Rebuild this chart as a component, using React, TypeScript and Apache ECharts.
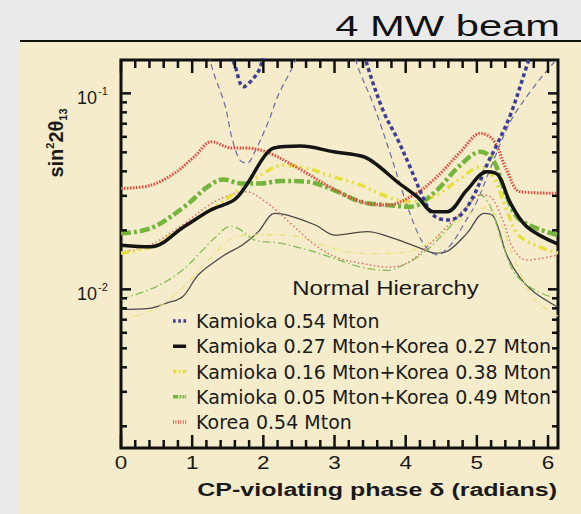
import React, { useEffect, useRef } from 'react';
import * as echarts from 'echarts';

const FONT = '"Liberation Sans", Arial, sans-serif';
const LEGEND_FONT = '"DejaVu Sans", sans-serif';

// Axis extents
const X_MIN = 0;
const X_MAX = 6.14;
const Y_MIN = 0.00155;
const Y_MAX = 0.148;

// Tick values and labels
const xMajorTicks = [0, 1, 2, 3, 4, 5, 6];
const xTickLabels = ['0', '1', '2', '3', '4', '5', '6'];
const xMinorTicks = [0.2, 0.4, 0.6, 0.8, 1.2, 1.4, 1.6, 1.8, 2.2, 2.4, 2.6, 2.8, 3.2, 3.4, 3.6, 3.8, 4.2, 4.4, 4.6, 4.8, 5.2, 5.4, 5.6, 5.8];
const yMajorTicks = [0.01, 0.1];
const yTickBase = '10';
const yTickExponents = ['-2', '-1'];
const yMinorTicks = [0.002, 0.003, 0.004, 0.005, 0.006, 0.007, 0.008, 0.009, 0.02, 0.03, 0.04, 0.05, 0.06, 0.07, 0.08, 0.09];

const legendNames = [
  'Kamioka 0.54 Mton',
  'Kamioka 0.27 Mton+Korea 0.27 Mton',
  'Kamioka 0.16 Mton+Korea 0.38 Mton',
  'Kamioka 0.05 Mton+Korea 0.49 Mton',
  'Korea 0.54 Mton',
];

// Legend icon shapes (15 x 4 box)
const legendIcons = [
  'path://M0,0h3v4h-3zM6,0h3v4h-3zM12,0h3v4h-3z',
  'path://M0,0h15v4h-15z',
  'path://M0,0h4v4h-4zM6.5,0h2v4h-2zM11,0h4v4h-4z',
  'path://M0,0h6v4h-6zM7.5,0h2v4h-2zM11,0h2v4h-2zM14,0h1v4h-1z',
  'path://M0,0h1v4h-1zM2.8,0h1v4h-1zM5.6,0h1v4h-1zM8.4,0h1v4h-1zM11.2,0h1v4h-1zM14,0h1v4h-1z',
];

// Kamioka 0.54 Mton (blue)
const deltaBlueThick = [1.45, 1.6, 1.72, 1.85, 1.95, 2.1, 2.7, 3.35, 3.46, 3.69, 3.88, 4.07, 4.25, 4.39, 4.58, 4.77, 4.96, 5.14, 5.28, 5.47, 5.66, 5.8];
const sinBlueThick = [0.2, 0.139, 0.108, 0.118, 0.134, 0.2, 0.5, 0.2, 0.139, 0.0805, 0.0589, 0.0414, 0.0291, 0.0239, 0.0226, 0.0239, 0.0303, 0.0431, 0.0545, 0.0775, 0.124, 0.18];
const deltaBlueThin = [1.2, 1.27, 1.46, 1.56, 1.67, 1.77, 1.88, 2.07, 2.21, 2.4, 2.55, 3.0, 3.25, 3.32, 3.55, 3.79, 3.97, 4.16, 4.3, 4.44, 4.63, 4.81, 5.0, 5.19, 5.47, 5.75, 6.07, 6.14];
const sinBlueThin = [0.2, 0.139, 0.0871, 0.0589, 0.0457, 0.044, 0.0504, 0.0716, 0.098, 0.134, 0.18, 0.3, 0.18, 0.139, 0.0871, 0.0484, 0.0303, 0.0197, 0.0162, 0.015, 0.0168, 0.0213, 0.028, 0.0414, 0.0716, 0.1019, 0.142, 0.15];

// Kamioka 0.27 + Korea 0.27 (black)
const deltaBlackThick = [0, 0.42, 0.89, 1.26, 1.59, 1.78, 2.01, 2.15, 2.52, 2.99, 3.41, 3.6, 3.88, 4.16, 4.39, 4.58, 4.86, 5.14, 5.3, 5.47, 5.7, 6.14];
const sinBlackThick = [0.0168, 0.0165, 0.0209, 0.0254, 0.0286, 0.0348, 0.0475, 0.0526, 0.0538, 0.0503, 0.0475, 0.0431, 0.0354, 0.0297, 0.0249, 0.0249, 0.0321, 0.0398, 0.0383, 0.0276, 0.0209, 0.017];
const deltaBlackThin = [0, 0.4, 0.64, 0.87, 1.09, 1.46, 1.7, 1.93, 2.16, 2.34, 2.73, 3.01, 3.46, 3.83, 4.21, 4.42, 4.58, 4.86, 5.1, 5.24, 5.42, 5.61, 5.8, 6.14];
const sinBlackThin = [0.0079, 0.008, 0.0085, 0.0092, 0.0119, 0.015, 0.0168, 0.0197, 0.0244, 0.0239, 0.0213, 0.0189, 0.0197, 0.0182, 0.0162, 0.0153, 0.0156, 0.0193, 0.0244, 0.0234, 0.015, 0.0114, 0.0097, 0.0081];

// Kamioka 0.16 + Korea 0.38 (yellow)
const deltaYellowThick = [0, 0.42, 0.89, 1.26, 1.59, 1.92, 2.29, 2.62, 2.99, 3.37, 3.74, 4.07, 4.39, 4.77, 5.05, 5.23, 5.42, 5.61, 6.14];
const sinYellowThick = [0.0153, 0.0165, 0.0209, 0.0254, 0.0309, 0.0375, 0.0431, 0.0414, 0.0375, 0.034, 0.0297, 0.028, 0.0297, 0.0368, 0.0422, 0.0375, 0.0254, 0.0185, 0.0153];
const deltaYellowThin = [0, 0.5, 0.9, 1.3, 1.6, 2.0, 2.4, 2.8, 3.2, 3.6, 4.0, 4.4, 4.8, 5.1, 5.3, 5.5, 5.8, 6.14];
const sinYellowThin = [0.007, 0.008, 0.0105, 0.015, 0.0185, 0.019, 0.0188, 0.017, 0.0155, 0.0152, 0.0155, 0.018, 0.023, 0.026, 0.023, 0.015, 0.009, 0.0073];

// Kamioka 0.05 + Korea 0.49 (green)
const deltaGreenThick = [0, 0.42, 0.89, 1.22, 1.44, 1.68, 1.96, 2.24, 2.62, 2.99, 3.37, 3.74, 4.07, 4.39, 4.77, 5.05, 5.23, 5.42, 5.61, 6.14];
const sinGreenThick = [0.0193, 0.0205, 0.0264, 0.0334, 0.0364, 0.0347, 0.0347, 0.0357, 0.0354, 0.0321, 0.028, 0.0269, 0.0264, 0.0309, 0.0431, 0.0503, 0.0457, 0.0297, 0.0226, 0.0189];
const deltaGreenThin = [0, 0.49, 0.86, 1.15, 1.33, 1.54, 1.68, 1.87, 2.24, 2.62, 2.99, 3.37, 3.74, 4.02, 4.3, 4.58, 4.86, 5.05, 5.19, 5.33, 5.53, 5.82, 6.14];
const sinGreenThin = [0.0089, 0.0103, 0.0125, 0.0159, 0.0185, 0.021, 0.0201, 0.0179, 0.0172, 0.0159, 0.0144, 0.013, 0.0125, 0.0136, 0.0159, 0.0201, 0.0264, 0.0303, 0.0264, 0.0185, 0.0121, 0.0099, 0.0089];

// Korea 0.54 Mton (red)
const deltaRedThick = [0, 0.42, 0.75, 1.03, 1.27, 1.56, 1.77, 2.08, 2.49, 2.96, 3.37, 3.74, 4.07, 4.39, 4.77, 5.05, 5.23, 5.42, 5.61, 6.14];
const sinRedThick = [0.0327, 0.034, 0.0391, 0.0475, 0.0566, 0.0526, 0.0526, 0.0496, 0.0415, 0.0329, 0.028, 0.0269, 0.0297, 0.0361, 0.0503, 0.0625, 0.0578, 0.0406, 0.0315, 0.0309];
const deltaRedThin = [0, 0.4, 0.86, 1.24, 1.52, 1.75, 2.03, 2.36, 2.73, 3.06, 3.37, 3.74, 4.02, 4.3, 4.58, 4.86, 5.05, 5.19, 5.38, 5.52, 5.7, 6.14];
const sinRedThin = [0.0155, 0.0168, 0.0213, 0.0269, 0.0303, 0.0315, 0.028, 0.0221, 0.0168, 0.0144, 0.0136, 0.013, 0.0136, 0.0165, 0.0209, 0.0264, 0.0303, 0.0297, 0.0217, 0.0159, 0.0141, 0.015];

const pairs = (xs: number[], ys: number[]) => xs.map((x, i) => [x, ys[i]]);

const lineSeries = (name: string, xs: number[], ys: number[], color: string, width: number, type: any, z: number) => ({
  type: 'line',
  name,
  data: pairs(xs, ys),
  smooth: 0.35,
  symbol: 'none',
  showSymbol: false,
  clip: true,
  z,
  lineStyle: { color, width, type },
  itemStyle: { color },
  emphasis: { disabled: true },
});

const TICK = { stroke: '#111', lineWidth: 2.5 };

function buildOption(): any {
  const xTickData = [
    ...xMajorTicks.map((v, i) => [v, Y_MIN, 1, i]),
    ...xMinorTicks.map((v) => [v, Y_MIN, 0, -1]),
  ];
  const yTickData = [
    ...yMajorTicks.map((v, i) => [X_MIN, v, 1, i]),
    ...yMinorTicks.map((v) => [X_MIN, v, 0, -1]),
  ];

  return {
    animation: false,
    backgroundColor: 'transparent',
    grid: {
      left: 121,
      right: 23,
      top: 60,
      bottom: 66,
      show: true,
      borderColor: '#111',
      borderWidth: 3,
      backgroundColor: 'transparent',
    },
    xAxis: {
      type: 'value',
      min: X_MIN,
      max: X_MAX,
      axisLine: { show: false },
      axisTick: { show: false },
      axisLabel: { show: false },
      splitLine: { show: false },
    },
    yAxis: {
      type: 'log',
      logBase: 10,
      min: Y_MIN,
      max: Y_MAX,
      axisLine: { show: false },
      axisTick: { show: false },
      axisLabel: { show: false },
      splitLine: { show: false },
    },
    legend: {
      data: legendNames.map((name, i) => ({ name, icon: legendIcons[i] })),
      orient: 'vertical',
      left: 168,
      top: 306,
      itemWidth: 15,
      itemHeight: 3.5,
      itemGap: 5.25,
      selectedMode: false,
      textStyle: { fontFamily: LEGEND_FONT, fontSize: 19, color: '#1a1a1a', lineHeight: 20, padding: [0, 0, 0, 4] },
    },
    graphic: [
      {
        type: 'text',
        x: 560,
        y: 26,
        scaleX: 1.39,
        style: { text: '4 MW beam', font: `30px ${FONT}`, fill: '#111', align: 'right', verticalAlign: 'middle', textAlign: 'right', textVerticalAlign: 'middle' },
      },
      {
        type: 'text',
        x: 557,
        y: 490,
        scaleX: 1.39,
        style: { text: 'CP-violating phase δ (radians)', font: `bold 18px ${FONT}`, fill: '#1a1a1a', align: 'right', verticalAlign: 'middle', textAlign: 'right', textVerticalAlign: 'middle' },
      },
      {
        type: 'text',
        x: 385.5,
        y: 288,
        scaleX: 1.2,
        style: { text: 'Normal Hierarchy', font: `20px ${FONT}`, fill: '#1a1a1a', align: 'center', verticalAlign: 'middle', textAlign: 'center', textVerticalAlign: 'middle' },
      },
      {
        type: 'text',
        x: 56,
        y: 143,
        rotation: Math.PI / 2,
        style: {
          text: '{n|sin}{sup|2}{n|2θ}{sub|13}',
          align: 'center',
          verticalAlign: 'middle',
          textAlign: 'center',
          textVerticalAlign: 'middle',
          fill: '#1a1a1a',
          rich: {
            n: { fontSize: 20, fontWeight: 'bold', fontFamily: FONT, fill: '#1a1a1a', color: '#1a1a1a', lineHeight: 24, verticalAlign: 'middle' },
            sup: { fontSize: 11, fontWeight: 'bold', fontFamily: FONT, fill: '#1a1a1a', color: '#1a1a1a', verticalAlign: 'top' },
            sub: { fontSize: 11, fontWeight: 'bold', fontFamily: FONT, fill: '#1a1a1a', color: '#1a1a1a', verticalAlign: 'bottom' },
          },
        },
      },
    ],
    series: [
      lineSeries(legendNames[0], deltaBlueThick, sinBlueThick, '#3e3e98', 3.5, [4, 3], 6),
      lineSeries(legendNames[1], deltaBlackThick, sinBlackThick, '#141414', 3.5, 'solid', 6),
      lineSeries(legendNames[2], deltaYellowThick, sinYellowThick, '#e6df3c', 3.5, [8, 4, 2, 4, 2, 4], 5),
      lineSeries(legendNames[3], deltaGreenThick, sinGreenThick, '#74b43a', 4.5, [10, 3, 3, 3], 5),
      lineSeries(legendNames[4], deltaRedThick, sinRedThick, '#e3483e', 3, [1.5, 1.5], 5),
      lineSeries(legendNames[0], deltaBlueThin, sinBlueThin, '#6c6ca6', 1.2, [6, 4], 3),
      lineSeries(legendNames[1], deltaBlackThin, sinBlackThin, '#4a4a4a', 1.3, 'solid', 3),
      lineSeries(legendNames[2], deltaYellowThin, sinYellowThin, '#ebe17a', 1.3, [6, 3, 1.5, 3], 3),
      lineSeries(legendNames[3], deltaGreenThin, sinGreenThin, '#86bd55', 1.3, [8, 3, 1.5, 3], 3),
      lineSeries(legendNames[4], deltaRedThin, sinRedThin, '#e07070', 1.5, [1.5, 2.5], 3),
      {
        type: 'custom',
        name: 'xTicks',
        coordinateSystem: 'cartesian2d',
        data: xTickData,
        z: 10,
        silent: true,
        renderItem: (params: any, api: any) => {
          const xv = api.value(0);
          const major = api.value(2) === 1;
          const li = api.value(3);
          const cs = params.coordSys;
          const px = api.coord([xv, Y_MIN])[0];
          const len = major ? 13 : 8;
          const top = cs.y;
          const bottom = cs.y + cs.height;
          const children: any[] = [
            { type: 'line', shape: { x1: px, y1: bottom, x2: px, y2: bottom - len }, style: TICK },
            { type: 'line', shape: { x1: px, y1: top, x2: px, y2: top + len }, style: TICK },
          ];
          if (major && li >= 0) {
            children.push({
              type: 'text',
              x: px,
              y: bottom + 15,
              scaleX: 1.25,
              style: { text: xTickLabels[li], font: `18px ${FONT}`, fill: '#1a1a1a', align: 'center', verticalAlign: 'middle', textAlign: 'center', textVerticalAlign: 'middle' },
            });
          }
          return { type: 'group', children };
        },
      },
      {
        type: 'custom',
        name: 'yTicks',
        coordinateSystem: 'cartesian2d',
        data: yTickData,
        z: 10,
        silent: true,
        renderItem: (params: any, api: any) => {
          const yv = api.value(1);
          const major = api.value(2) === 1;
          const li = api.value(3);
          const cs = params.coordSys;
          const py = api.coord([X_MIN, yv])[1];
          const len = major ? 10 : 6;
          const left = cs.x;
          const right = cs.x + cs.width;
          const children: any[] = [
            { type: 'line', shape: { x1: left, y1: py, x2: left + len, y2: py }, style: TICK },
            { type: 'line', shape: { x1: right, y1: py, x2: right - len, y2: py }, style: TICK },
          ];
          if (major && li >= 0) {
            children.push({
              type: 'text',
              x: left - 24,
              y: py + 5,
              style: { text: yTickBase, font: `18px ${FONT}`, fill: '#1a1a1a', align: 'right', verticalAlign: 'middle', textAlign: 'right', textVerticalAlign: 'middle' },
            });
            children.push({
              type: 'text',
              x: left - 23,
              y: py - 2,
              style: { text: yTickExponents[li], font: `11px ${FONT}`, fill: '#1a1a1a', align: 'left', verticalAlign: 'middle', textAlign: 'left', textVerticalAlign: 'middle' },
            });
          }
          return { type: 'group', children };
        },
      },
    ],
  };
}

export default function App() {
  const ref = useRef<HTMLDivElement>(null);
  useEffect(() => {
    if (!ref.current) return;
    const chart = echarts.init(ref.current, null, { renderer: 'svg' });
    chart.setOption(buildOption());
    return () => chart.dispose();
  }, []);
  return (
    <div style={{ position: 'fixed', left: 0, top: 0, width: 581, height: 514, background: '#eaeaea', overflow: 'hidden' }}>
      <div style={{ position: 'absolute', left: 20, top: 41, width: 561, height: 473, background: '#f4ecca' }} />
      <div style={{ position: 'absolute', left: 20, top: 40, width: 561, height: 2, background: '#111' }} />
      <div ref={ref} style={{ position: 'absolute', left: 0, top: 0, width: 581, height: 514 }} />
    </div>
  );
}
